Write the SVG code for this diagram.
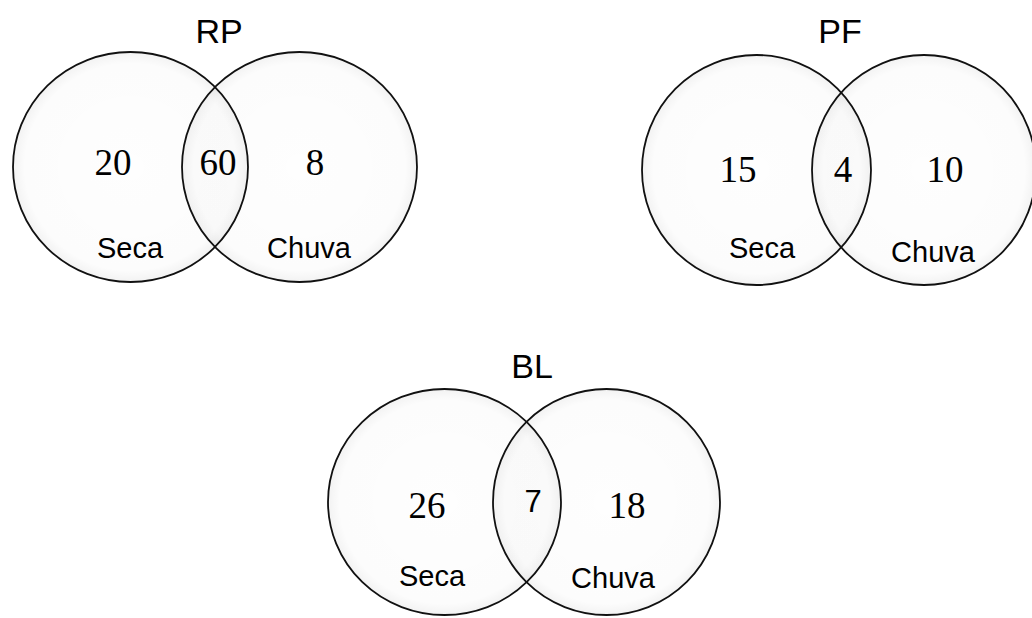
<svg xmlns="http://www.w3.org/2000/svg" width="1032" height="618" viewBox="0 0 1032 618">
<defs>
<radialGradient id="g" cx="50%" cy="50%" r="50%">
<stop offset="0" stop-color="#000" stop-opacity="0.005"/>
<stop offset="0.9" stop-color="#000" stop-opacity="0.012"/>
<stop offset="1" stop-color="#000" stop-opacity="0.05"/>
</radialGradient>
</defs>
<style>
.c{fill:url(#g);stroke:#111;stroke-width:1.8}
.t{font-family:"Liberation Sans",Arial,sans-serif;font-size:34px;fill:#000;text-anchor:middle}
.n{font-family:"Liberation Serif","Times New Roman",serif;font-size:37px;fill:#000;text-anchor:middle}
.l{font-family:"Liberation Sans",Arial,sans-serif;font-size:29px;fill:#000;text-anchor:middle}
</style>
<rect width="1032" height="618" fill="#fff"/>
<g id="RP">
<ellipse class="c" cx="130.5" cy="167" rx="117.5" ry="115"/>
<ellipse class="c" cx="299.5" cy="167" rx="117.5" ry="115"/>
<text class="t" x="219" y="43">RP</text>
<text class="n" x="113" y="175">20</text>
<text class="n" x="218" y="175">60</text>
<text class="n" x="315" y="175">8</text>
<text class="l" x="130" y="258">Seca</text>
<text class="l" x="309" y="258">Chuva</text>
</g>
<g id="PF">
<ellipse class="c" cx="756.5" cy="170" rx="114.5" ry="115"/>
<ellipse class="c" cx="924" cy="170" rx="112" ry="115"/>
<text class="t" x="840" y="43">PF</text>
<text class="n" x="738" y="182">15</text>
<text class="n" x="843" y="182">4</text>
<text class="n" x="945" y="182">10</text>
<text class="l" x="762" y="258">Seca</text>
<text class="l" x="933" y="262">Chuva</text>
</g>
<g id="BL">
<ellipse class="c" cx="444.5" cy="502" rx="116.5" ry="113"/>
<ellipse class="c" cx="606.5" cy="502" rx="113.5" ry="113"/>
<text class="t" x="532" y="378">BL</text>
<text class="n" x="427" y="518">26</text>
<text class="l" x="533" y="512" style="font-size:31px">7</text>
<text class="n" x="627" y="518">18</text>
<text class="l" x="432" y="586">Seca</text>
<text class="l" x="613" y="588">Chuva</text>
</g>
<g id="connectors"></g>
</svg>
